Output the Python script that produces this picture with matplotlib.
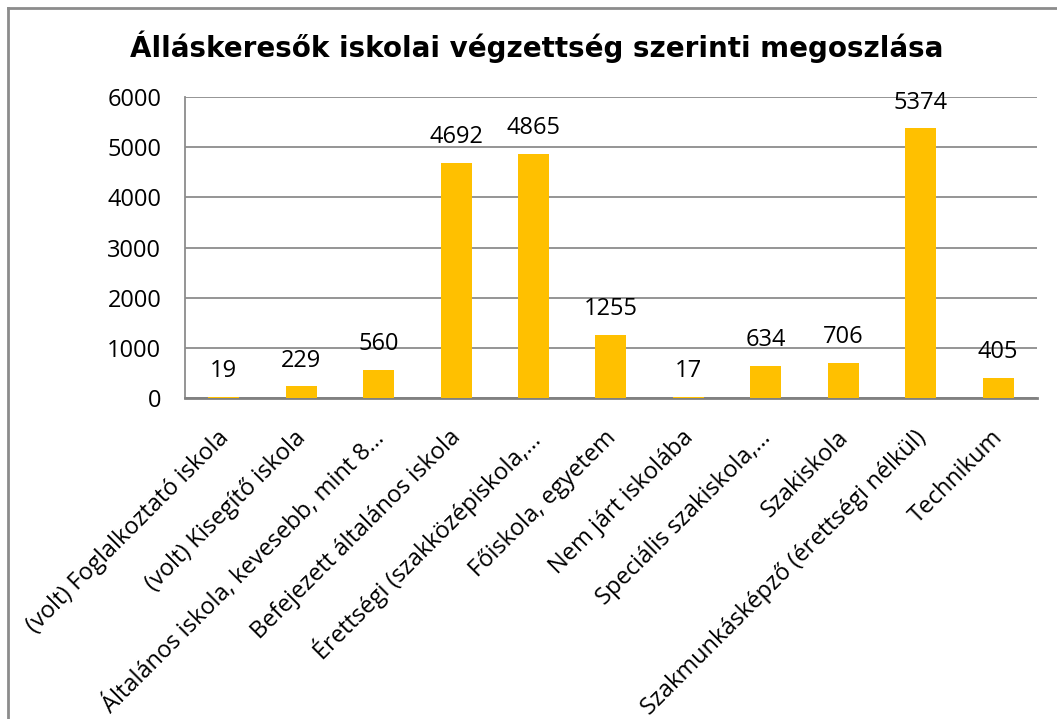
import matplotlib.pyplot as plt
import matplotlib.transforms as mtransforms
from matplotlib.lines import Line2D

categories = [
    '(volt) Foglalkoztató iskola',
    '(volt) Kisegítő iskola',
    'Általános iskola, kevesebb, mint 8…',
    'Befejezett általános iskola',
    'Érettségi (szakközépiskola,…',
    'Főiskola, egyetem',
    'Nem járt iskolába',
    'Speciális szakiskola,…',
    'Szakiskola',
    'Szakmunkásképző (érettségi nélkül)',
    'Technikum',
]
values = [19, 229, 560, 4692, 4865, 1255, 17, 634, 706, 5374, 405]
yticks = [0, 1000, 2000, 3000, 4000, 5000, 6000]

bar_color = '#FFC000'
grid_color = '#8C8C8C'

fig = plt.figure(figsize=(10.57, 7.19), dpi=100)
ax = fig.add_axes([0.175, 0.4465, 0.806, 0.4185])

x = range(len(categories))
ax.bar(x, values, width=0.4, color=bar_color, zorder=3)
for xi, v in zip(x, values):
    ax.annotate(str(v), (xi, v), xytext=(0, 10), textcoords='offset points',
                ha='center', va='bottom', fontsize=17, family='Open Sans')

ax.set_xlim(-0.5, len(categories) - 0.5)
ax.set_ylim(0, 6000)
ax.set_yticks(yticks)
ax.set_yticklabels([str(t) for t in yticks], fontsize=17, family='Open Sans')
ax.set_xticks(list(x))
ax.set_xticklabels(categories, rotation=45, ha='right', rotation_mode='anchor',
                   fontsize=17, family='Open Sans')
ax.tick_params(axis='both', length=0)
ax.tick_params(axis='y', pad=17)
ax.tick_params(axis='x', pad=20)

# nudge rotated labels a little to the left, like the original
shift = mtransforms.ScaledTranslation(-7 / 100, 0, fig.dpi_scale_trans)
for lbl in ax.get_xticklabels():
    lbl.set_transform(lbl.get_transform() + shift)

ax.yaxis.grid(True, color=grid_color, linewidth=1.3, zorder=0)
for s in ['top', 'right']:
    ax.spines[s].set_visible(False)
ax.spines['left'].set_color(grid_color)
ax.spines['bottom'].set_color('#808080')
ax.spines['left'].set_linewidth(1.3)
ax.spines['bottom'].set_linewidth(2)

fig.text(0.508, 0.935, 'Álláskeresők iskolai végzettség szerinti megoszlása',
         ha='center', va='center', fontsize=20, fontweight='bold', family='DejaVu Sans')

# chart frame (left and top edges visible)
fig.add_artist(Line2D([0.008, 0.008], [0, 0.989], color='#8C8C8C', linewidth=2))
fig.add_artist(Line2D([0.008, 1.0], [0.989, 0.989], color='#8C8C8C', linewidth=2))

fig.savefig('out.png', dpi=100)
